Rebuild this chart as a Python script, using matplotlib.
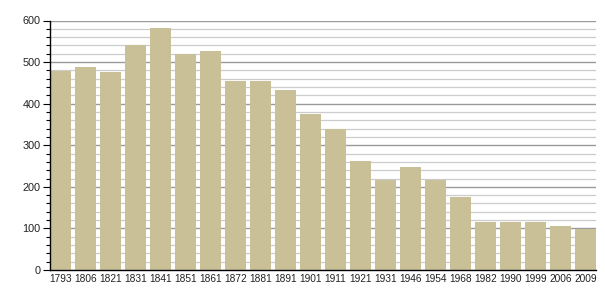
import matplotlib
matplotlib.use('Agg')
import matplotlib.pyplot as plt
import matplotlib.ticker as tic
import numpy as np

# census years and population
years = ['1793', '1806', '1821', '1831', '1841', '1851', '1861', '1872', '1881', '1891', '1901',
         '1911', '1921', '1931', '1946', '1954', '1968', '1982', '1990', '1999', '2006', '2009']
population = [479, 488, 477, 541, 582, 519, 527, 455, 455, 434, 376,
              338, 262, 217, 248, 217, 176, 116, 116, 116, 106, 99]

plt.rcParams['font.family'] = ['Liberation Sans', 'DejaVu Sans']

fig = plt.figure(figsize=(6.05, 3.0), dpi=100)
ax = fig.add_axes([50 / 605, 30 / 300, 546 / 605, 249.5 / 300])

x = np.arange(len(years))
ax.bar(x, population, width=0.84, color='#c9c098', zorder=3)

ax.set_xlim(-0.42, len(years) - 1 + 0.42)
ax.set_ylim(0, 600)

# grid: darker lines every 100, lighter every 20
ax.yaxis.set_major_locator(tic.MultipleLocator(100))
ax.yaxis.set_minor_locator(tic.MultipleLocator(20))
ax.grid(axis='y', which='major', color='#9a9a9a', linewidth=1.0, zorder=0)
ax.grid(axis='y', which='minor', color='#cccccc', linewidth=0.9, zorder=0)

ax.set_xticks(x)
ax.set_xticklabels(years)
ax.tick_params(axis='x', length=0, labelsize=7.3, pad=3, labelcolor='#222222')
ax.tick_params(axis='y', which='major', length=5, width=0.8, labelsize=7.8, pad=2,
               labelcolor='#222222')
ax.tick_params(axis='y', which='minor', length=3, width=0.8)

for s in ['top', 'right']:
    ax.spines[s].set_visible(False)
ax.spines['left'].set_linewidth(1.0)
ax.spines['bottom'].set_linewidth(1.0)
ax.spines['left'].set_zorder(4)
ax.spines['bottom'].set_zorder(4)

plt.savefig('out.png', dpi=100)
